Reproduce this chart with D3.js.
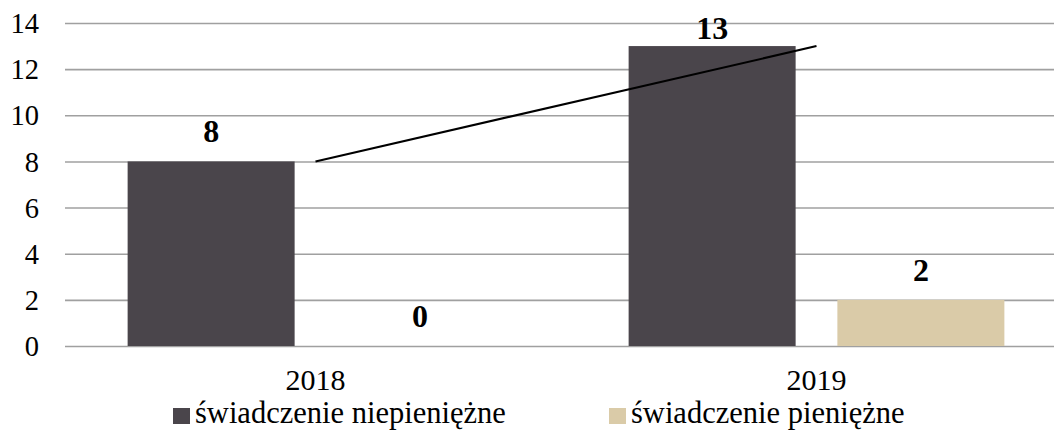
<!DOCTYPE html>
<html>
<head>
<meta charset="utf-8">
<script src="https://cdn.jsdelivr.net/npm/d3@7"></script>
<style>
  html, body { margin: 0; padding: 0; background: #fff; }
  svg { display: block; }
  text { font-family: "Liberation Serif", "DejaVu Serif", serif; fill: #000; }
</style>
</head>
<body>
<svg id="chart" width="1054" height="430"></svg>
<script>
// Years on the category axis
const categories = ["2018", "2019"];
// Series names (legend order)
const seriesNames = ["świadczenie niepieniężne", "świadczenie pieniężne"];
// Values per series, one per year
const nonCash = [8, 13];
const cash = [0, 2];
const seriesValues = [nonCash, cash];
const seriesColors = ["#4a454b", "#dacba8"];
// Value axis ticks
const yTicks = [0, 2, 4, 6, 8, 10, 12, 14];

const W = 1054, H = 430;
const plot = { left: 65, right: 1067, top: 23, bottom: 346 };

const svg = d3.select("#chart");

const x = d3.scaleBand().domain(categories).range([plot.left, plot.right]).padding(0);
const xs = d3.scaleBand().domain(seriesNames).range([0, x.bandwidth()])
  .paddingInner(0.2).paddingOuter(0.3);
const y = d3.scaleLinear().domain([0, 14]).range([plot.bottom, plot.top]);

// Horizontal gridlines and tick labels
const yAxis = d3.axisLeft(y).tickValues(yTicks).tickSize(-(W - plot.left)).tickPadding(26);
const gy = svg.append("g").attr("transform", `translate(${plot.left},0)`).call(yAxis);
gy.select(".domain").remove();
gy.selectAll(".tick line").attr("stroke", "#a0a0a0").attr("stroke-width", 1.6);
gy.selectAll(".tick text")
  .attr("font-family", "Liberation Serif, serif")
  .attr("font-size", 28.5)
  .attr("fill", "#000")
  .attr("dy", "0.34em");

// Category labels
const xAxis = d3.axisBottom(x).tickSize(0).tickPadding(0);
const gx = svg.append("g").attr("transform", `translate(0,${plot.bottom})`).call(xAxis);
gx.select(".domain").remove();
gx.selectAll(".tick text")
  .attr("font-family", "Liberation Serif, serif")
  .attr("font-size", 30)
  .attr("fill", "#000")
  .attr("y", 44)
  .attr("dy", 0);

// Bars
const rows = [];
seriesNames.forEach((s, si) => {
  categories.forEach((c, ci) => {
    rows.push({ series: s, si, cat: c, value: seriesValues[si][ci] });
  });
});

svg.append("g").selectAll("rect").data(rows).join("rect")
  .attr("x", d => x(d.cat) + xs(d.series))
  .attr("width", xs.bandwidth())
  .attr("y", d => y(d.value))
  .attr("height", d => y(0) - y(d.value))
  .attr("fill", d => seriesColors[d.si]);

// Value labels above bars; kept inside the chart area at the top
const labelTopLimit = 39;
svg.append("g").selectAll("text").data(rows).join("text")
  .attr("x", d => x(d.cat) + xs(d.series) + xs.bandwidth() / 2)
  .attr("y", d => Math.max(y(d.value) - 19, labelTopLimit))
  .attr("text-anchor", "middle")
  .attr("font-family", "Liberation Serif, serif")
  .attr("font-weight", "bold")
  .attr("font-size", 32)
  .text(d => d.value);

// Linear trend of the first series, through category centres
const trendPts = categories.map((c, i) => [x(c) + x.bandwidth() / 2, y(nonCash[i])]);
const n = nonCash.length;
const xi = d3.range(n);
const mx = d3.mean(xi), my = d3.mean(nonCash);
const slope = d3.sum(xi.map((v, i) => (v - mx) * (nonCash[i] - my))) / d3.sum(xi.map(v => (v - mx) ** 2));
const intercept = my - slope * mx;
svg.append("path")
  .datum(xi)
  .attr("fill", "none")
  .attr("stroke", "#000")
  .attr("stroke-width", 2)
  .attr("d", d3.line()
    .x(i => trendPts[i][0])
    .y(i => y(intercept + slope * i)));

// Legend
const legendX = [173, 609];
const lg = svg.append("g").selectAll("g").data(seriesNames).join("g")
  .attr("transform", (d, i) => `translate(${legendX[i]},0)`);
lg.append("rect")
  .attr("x", 0).attr("y", 408)
  .attr("width", 17).attr("height", 16)
  .attr("fill", (d, i) => seriesColors[i]);
lg.append("text")
  .attr("x", 22).attr("y", 423)
  .attr("font-family", "Liberation Serif, serif")
  .attr("font-size", 30.5)
  .text(d => d);
</script>
</body>
</html>
